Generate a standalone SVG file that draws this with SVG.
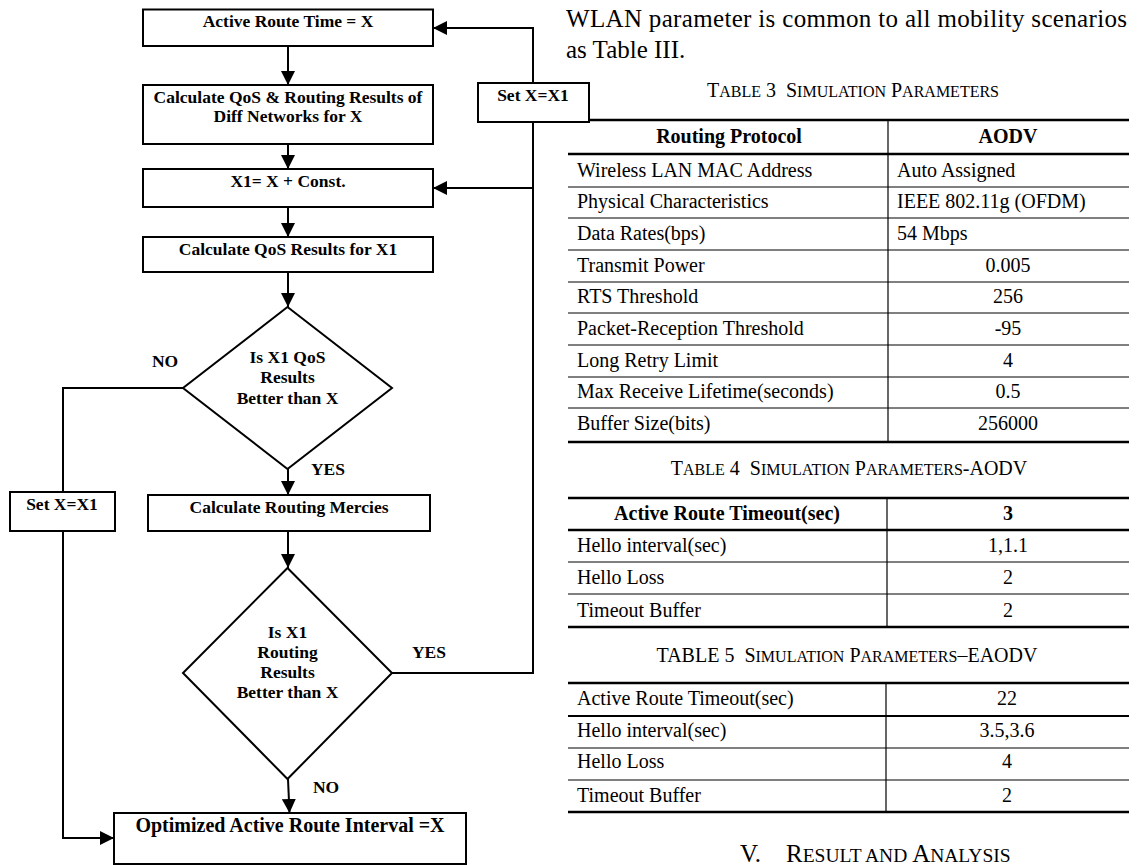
<svg xmlns="http://www.w3.org/2000/svg" width="1138" height="865" viewBox="0 0 1138 865">
<defs>
<style>
.bx{fill:#fff;stroke:#000;stroke-width:2}
.ln{fill:none;stroke:#000;stroke-width:2}
.ft{font-family:"Liberation Serif","Times New Roman",serif;font-weight:bold;font-size:17.5px;text-anchor:middle;fill:#000}
.big{font-size:20px}
.lb{font-family:"Liberation Serif","Times New Roman",serif;font-weight:bold;font-size:17.5px;text-anchor:middle;fill:#000}
.tk{stroke:#000;stroke-width:2.6}
.tm{stroke:#000;stroke-width:2}
.tn{stroke:#000;stroke-width:1}
.dv{stroke:#000;stroke-width:1.2}
.td{font-family:"Liberation Serif","Times New Roman",serif;font-size:20px;fill:#000}
.c{text-anchor:middle}
.b{font-weight:bold}
.cap{font-family:"Liberation Serif","Times New Roman",serif;font-size:20px;fill:#000;text-anchor:middle}
.sc{font-size:16px}
.body{font-family:"Liberation Serif","Times New Roman",serif;font-size:25px;fill:#000}
.sc2{font-size:19.5px}
</style>
<marker id="ah" viewBox="0 0 14 14" refX="14" refY="7" markerWidth="14" markerHeight="14" markerUnits="userSpaceOnUse" orient="auto">
<path d="M0,0 L14,7 L0,14 z" fill="#000"/>
</marker>
</defs>
<rect width="1138" height="865" fill="#fff"/>

<g id="text-column">
<text class="body" x="566" y="27" textLength="561" lengthAdjust="spacing">WLAN parameter is common to all mobility scenarios</text>
<text class="body" x="566" y="58">as Table III.</text>
</g>

<g id="table3">
<text class="cap" x="853" y="97">T<tspan class="sc">ABLE</tspan> 3 <tspan dx="5">S</tspan><tspan class="sc">IMULATION</tspan> P<tspan class="sc">ARAMETERS</tspan></text>
<line class="tk" x1="568" y1="120" x2="1129" y2="120"/>
<line class="tk" x1="568" y1="154" x2="1129" y2="154"/>
<line class="tn" x1="568" y1="187" x2="1129" y2="187"/>
<line class="tn" x1="568" y1="218" x2="1129" y2="218"/>
<line class="tn" x1="568" y1="250" x2="1129" y2="250"/>
<line class="tn" x1="568" y1="282" x2="1129" y2="282"/>
<line class="tn" x1="568" y1="313" x2="1129" y2="313"/>
<line class="tn" x1="568" y1="345" x2="1129" y2="345"/>
<line class="tn" x1="568" y1="377" x2="1129" y2="377"/>
<line class="tn" x1="568" y1="408" x2="1129" y2="408"/>
<line class="tk" x1="568" y1="442" x2="1129" y2="442"/>
<line class="dv" x1="888" y1="120" x2="888" y2="442"/>
<text class="td c b" x="729" y="143">Routing Protocol</text>
<text class="td c b" x="1008" y="143">AODV</text>
<text class="td" x="577" y="177">Wireless LAN MAC Address</text>
<text class="td" x="897" y="177">Auto Assigned</text>
<text class="td" x="577" y="208">Physical Characteristics</text>
<text class="td" x="897" y="208">IEEE 802.11g (OFDM)</text>
<text class="td" x="577" y="240">Data Rates(bps)</text>
<text class="td" x="897" y="240">54 Mbps</text>
<text class="td" x="577" y="272">Transmit Power</text>
<text class="td c" x="1008" y="272">0.005</text>
<text class="td" x="577" y="303">RTS Threshold</text>
<text class="td c" x="1008" y="303">256</text>
<text class="td" x="577" y="335">Packet-Reception Threshold</text>
<text class="td c" x="1008" y="335">-95</text>
<text class="td" x="577" y="367">Long Retry Limit</text>
<text class="td c" x="1008" y="367">4</text>
<text class="td" x="577" y="398">Max Receive Lifetime(seconds)</text>
<text class="td c" x="1008" y="398">0.5</text>
<text class="td" x="577" y="430">Buffer Size(bits)</text>
<text class="td c" x="1008" y="430">256000</text>
</g>

<g id="table4">
<text class="cap" x="849" y="475">T<tspan class="sc">ABLE</tspan> 4 <tspan dx="5">S</tspan><tspan class="sc">IMULATION</tspan> P<tspan class="sc">ARAMETERS</tspan>-AODV</text>
<line class="tk" x1="568" y1="498" x2="1129" y2="498"/>
<line class="tk" x1="568" y1="530" x2="1129" y2="530"/>
<line class="tn" x1="568" y1="562" x2="1129" y2="562"/>
<line class="tn" x1="568" y1="594" x2="1129" y2="594"/>
<line class="tk" x1="568" y1="627" x2="1129" y2="627"/>
<line class="dv" x1="887" y1="498" x2="887" y2="627"/>
<text class="td c b" x="727" y="520">Active Route Timeout(sec)</text>
<text class="td c b" x="1008" y="520">3</text>
<text class="td" x="577" y="552">Hello interval(sec)</text>
<text class="td c" x="1008" y="552">1,1.1</text>
<text class="td" x="577" y="584">Hello Loss</text>
<text class="td c" x="1008" y="584">2</text>
<text class="td" x="577" y="617">Timeout Buffer</text>
<text class="td c" x="1008" y="617">2</text>
</g>

<g id="table5">
<text class="cap" x="847" y="662">TABLE 5 <tspan dx="5">S</tspan><tspan class="sc">IMULATION</tspan> P<tspan class="sc">ARAMETERS</tspan>–EAODV</text>
<line class="tk" x1="568" y1="683" x2="1129" y2="683"/>
<line class="tm" x1="568" y1="716" x2="1129" y2="716"/>
<line class="tn" x1="568" y1="748" x2="1129" y2="748"/>
<line class="tn" x1="568" y1="780" x2="1129" y2="780"/>
<line class="tk" x1="568" y1="812" x2="1129" y2="812"/>
<line class="dv" x1="886" y1="683" x2="886" y2="812"/>
<text class="td" x="577" y="705">Active Route Timeout(sec)</text>
<text class="td c" x="1007" y="705">22</text>
<text class="td" x="577" y="737">Hello interval(sec)</text>
<text class="td c" x="1007" y="737">3.5,3.6</text>
<text class="td" x="577" y="768">Hello Loss</text>
<text class="td c" x="1007" y="768">4</text>
<text class="td" x="577" y="802">Timeout Buffer</text>
<text class="td c" x="1007" y="802">2</text>
</g>

<g id="heading">
<text class="body" x="740" y="862">V.<tspan x="786">R</tspan><tspan class="sc2">ESULT AND </tspan>A<tspan class="sc2">NALYSIS</tspan></text>
</g>

<g id="connectors">
<line class="ln" x1="288" y1="46" x2="288" y2="85" marker-end="url(#ah)"/>
<line class="ln" x1="288" y1="144" x2="288" y2="169" marker-end="url(#ah)"/>
<line class="ln" x1="288" y1="207" x2="288" y2="237" marker-end="url(#ah)"/>
<line class="ln" x1="288" y1="272" x2="288" y2="307" marker-end="url(#ah)"/>
<line class="ln" x1="288" y1="469" x2="288" y2="495" marker-end="url(#ah)"/>
<line class="ln" x1="288" y1="531" x2="288" y2="568" marker-end="url(#ah)"/>
<line class="ln" x1="288" y1="779" x2="289.5" y2="813" marker-end="url(#ah)"/>
<polyline class="ln" points="183,388 63,388 63,492"/>
<polyline class="ln" points="63,531 63,838 114,838" marker-end="url(#ah)"/>
<polyline class="ln" points="392,673 533,673 533,122"/>
<polyline class="ln" points="533,83 533,28 433,28" marker-end="url(#ah)"/>
<line class="ln" x1="533" y1="188" x2="433" y2="188" marker-end="url(#ah)"/>
<text class="lb" x="165" y="367">NO</text>
<text class="lb" x="328" y="475">YES</text>
<text class="lb" x="429" y="658">YES</text>
<text class="lb" x="326" y="793">NO</text>
</g>

<g id="n1">
<rect class="bx" x="143" y="9.5" width="290" height="36.5"/>
<text class="ft" x="288" y="27">Active Route Time = X</text>
</g>
<g id="n2">
<rect class="bx" x="143" y="85" width="290" height="59"/>
<text class="ft" x="288" y="103">Calculate QoS &amp; Routing Results of</text>
<text class="ft" x="288" y="122">Diff Networks for X</text>
</g>
<g id="n3">
<rect class="bx" x="143" y="169" width="290" height="38"/>
<text class="ft" x="288" y="187">X1= X + Const.</text>
</g>
<g id="n4">
<rect class="bx" x="143" y="237" width="290" height="35"/>
<text class="ft" x="288" y="255">Calculate QoS Results for X1</text>
</g>
<g id="d1">
<polygon class="bx" points="287.5,307 392,388 287.5,469 183,388"/>
<text class="ft" x="287.5" y="363">Is X1 QoS</text>
<text class="ft" x="287.5" y="383">Results</text>
<text class="ft" x="287.5" y="404">Better than X</text>
</g>
<g id="n5">
<rect class="bx" x="148" y="495" width="282" height="36"/>
<text class="ft" x="289" y="513">Calculate Routing Mercies</text>
</g>
<g id="d2">
<polygon class="bx" points="287.5,568 392,673 287.5,779 183,673"/>
<text class="ft" x="287.5" y="638">Is X1</text>
<text class="ft" x="287.5" y="658">Routing</text>
<text class="ft" x="287.5" y="678">Results</text>
<text class="ft" x="287.5" y="698">Better than X</text>
</g>
<g id="n6">
<rect class="bx" x="114" y="813" width="352" height="51"/>
<text class="ft big" x="290" y="832">Optimized Active Route Interval =X</text>
</g>
<g id="s1">
<rect class="bx" x="478" y="83" width="111" height="39"/>
<text class="ft" x="533" y="101">Set X=X1</text>
</g>
<g id="s2">
<rect class="bx" x="10" y="492" width="105" height="39"/>
<text class="ft" x="62" y="510">Set X=X1</text>
</g>
</svg>
